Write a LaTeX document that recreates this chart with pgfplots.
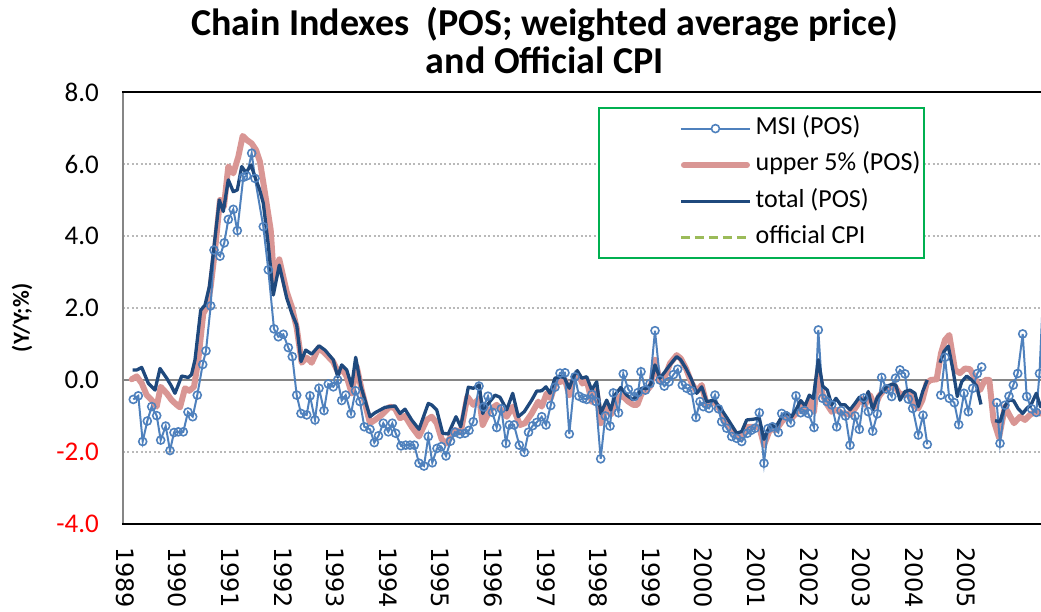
\documentclass[border=0pt]{standalone}
\usepackage{fontspec}
\setmainfont{Carlito}
\newfontfamily\yearfont{DejaVu Sans}
\usepackage{pgfplots}
\pgfplotsset{compat=1.18}
\usetikzlibrary{calc}
\definecolor{msi}{RGB}{79,129,189}
\definecolor{upper}{RGB}{217,150,148}
\definecolor{total}{RGB}{31,73,125}
\definecolor{cpi}{RGB}{155,187,89}
\definecolor{legbox}{RGB}{0,176,80}
\definecolor{axgray}{RGB}{134,134,134}
\definecolor{gridgray}{RGB}{185,185,185}
\begin{document}
\begin{tikzpicture}
\begin{axis}[
  name=ax,
  scale only axis,
  width=459pt, height=216pt,
  xmin=123, xmax=1041,
  ymin=-4, ymax=8,
  clip=true,
  axis line style={draw=none},
  tick style={draw=none},
  ytick={-4,-2,2,4,6,8},
  yticklabels={{\color{red}-4.0},{\color{red}-2.0},2.0,4.0,6.0,8.0},
  extra y ticks={0},
  extra y tick labels={0.0},
  extra y tick style={grid style={solid, draw=axgray, line width=1pt}},
  yticklabel style={font=\fontsize{13.5}{16}\selectfont, anchor=east, xshift=-8.5pt},
  xtick={125,177.6,230.2,282.8,335.4,388,440.6,493.2,545.8,598.4,651,703.6,756.2,808.8,861.4,914,966.6},
  xticklabels={1989,1990,1991,1992,1993,1994,1995,1996,1997,1998,1999,2000,2001,2002,2003,2004,2005},
  xticklabel style={font=\yearfont\fontsize{12}{14}\selectfont, yshift=-8pt, rotate=-90, anchor=west},
  ymajorgrids,
  grid style={draw=gridgray, line width=0.9pt, dash pattern=on 1pt off 1.2pt},
  ylabel={(Y/Y;\%)},
  every axis y label/.style={at={(rel axis cs:-0.110,0.477)}, rotate=90, anchor=center, font=\bfseries\fontsize{11.5}{13}\selectfont},
  unbounded coords=jump,
  legend style={draw=legbox, line width=1pt, fill=white,
    at={(rel axis cs:0.5174,0.9653)}, anchor=north west,
    inner xsep=0pt, inner ysep=1.2pt,
    font=\fontsize{13}{15.6}\selectfont,
    nodes={inner xsep=2pt, inner ysep=3.1pt, text height=9pt, text depth=3pt},
    every even column/.style={text width=124pt}},
  legend cell align=left,
]
% upper 5% (POS)
\addplot[upper, line width=3pt, line join=round, line cap=round, forget plot] table {
x y
131.7 0.02
136.7 0.1
141.7 -0.09
146.7 -0.42
151.7 -0.56
156.7 -0.74
160.7 -0.19
166.7 -0.37
171.7 -0.56
176.7 -0.69
180 -0.76
185 -0.23
189.3 -0.3
194 -0.19
198.3 0.56
203.3 1.85
207.3 2.04
210.7 2.59
215 3.61
220 5.0
224 4.83
228.3 5.93
233.3 5.74
238.3 6.2
242.7 6.78
246.7 6.67
251.7 6.57
256 6.39
260 6.06
265 5.19
270.7 4.17
274 2.78
279.3 3.35
286.7 2.45
291.7 2.04
296.7 1.45
301.7 0.48
306.7 0.62
311.7 0.48
318.7 0.9
325 0.74
333.3 0.5
338.3 0.2
342.5 0.3
346.7 0.09
351.7 -0.37
356.7 0.37
361.7 -0.28
370 -1.2
375 -1.11
381.7 -0.97
390 -0.74
395 -0.79
400 -1.06
405 -1.0
411.7 -1.3
419 -1.57
426.7 -1.11
431.7 -1.02
436.7 -1.2
441.7 -1.65
446.7 -1.76
455 -1.39
460.7 -1.46
467.3 -0.46
473.3 -0.69
479.3 -0.51
482.7 -1.25
490 -0.83
496.7 -0.69
506.7 -1.02
512.7 -0.74
520 -1.25
525 -1.2
531.7 -0.93
538.3 -0.6
541.7 -0.74
546.7 -0.37
550.7 -0.51
556 -0.05
560.7 -0.05
565 0.0
569.3 -0.42
573.3 0.0
578.3 0.14
582.5 -0.1
586.7 0.0
591.7 -0.6
596.5 -0.3
600.7 -1.2
606.7 -0.74
610.7 -0.97
616.7 -0.56
621.7 -0.42
628.3 -0.6
633.3 -0.69
637.3 -0.69
641.7 -0.37
647.3 -0.28
651 -0.15
655 0.56
660 -0.05
665 0.09
670 0.46
676.7 0.69
680.7 0.6
686 0.32
691.7 -0.09
696.7 -0.32
701.7 -0.14
706.7 -0.69
714 -0.6
720 -0.83
726.7 -1.2
731.7 -1.34
736.7 -1.56
741.7 -1.6
746.7 -1.3
753.3 -1.3
759.3 -1.3
764 -1.81
770 -1.37
776 -1.39
781.7 -1.16
786.7 -1.02
791.7 -1.06
796.7 -0.91
800.7 -0.74
805 -0.85
809.3 -0.57
814 -0.88
818.3 0.28
822.7 -0.42
827.3 -0.69
831.7 -0.88
836.7 -0.83
841.7 -0.93
846 -0.93
850.7 -0.97
856.7 -0.72
860.7 -0.51
865 -0.69
870 -0.42
875 -0.74
879.3 -0.44
884 -0.28
889.3 -0.23
894 -0.14
899.3 -0.37
905 -0.42
910 -0.37
913.3 -0.69
918.3 -0.79
922.5 -0.55
926.7 -0.09
930.7 0.0
936.7 0.02
941 0.74
945 1.11
949.3 1.25
955 0.28
960 0.19
965 0.32
970 0.3
975 0.05
980 -0.28
985 0.0
989.3 0.0
993.5 -1.11
999 -1.6
1005 -0.74
1009.3 -0.97
1014 -1.2
1020 -1.02
1025 -1.11
1030 -0.97
1035 -0.88
1040 -0.93
1044 -0.9
};
% MSI (POS)
\addplot[msi, line width=1pt, mark=o, mark size=2pt, mark options={fill=white, line width=0.8pt}, forget plot] table {
x y
133.3 -0.54
138.3 -0.44
142.7 -1.71
147.3 -1.14
151.7 -0.74
156.7 -0.99
160.7 -1.67
165.7 -1.28
170 -1.96
174 -1.46
178.3 -1.44
183.3 -1.44
188 -0.89
192.7 -1.02
197.3 -0.42
202.7 0.43
206 0.81
210.7 2.06
214 3.61
220 3.44
224.3 3.81
228.3 4.46
233.3 4.74
237.3 4.15
243.3 5.63
246.7 5.67
251.7 6.3
255 5.6
263.3 4.26
268.3 3.06
274 1.42
278.3 1.2
283.3 1.27
288.3 0.9
292.3 0.65
296.7 -0.42
301 -0.93
306.7 -0.97
310 -0.44
315 -1.11
319 -0.23
324 -0.85
328.3 -0.11
333.3 -0.19
337.7 0.0
341.7 -0.57
345.7 -0.42
351 -0.94
355.5 -0.3
360 -0.6
364.3 -1.3
370 -1.37
374.3 -1.74
378.5 -1.55
383.3 -1.2
388.3 -1.44
392.3 -1.2
395.7 -1.48
401 -1.83
405.7 -1.81
410 -1.81
414.3 -1.81
419 -2.31
424 -2.39
428.3 -1.57
432.3 -2.3
437 -1.9
441.3 -1.85
446 -2.11
450.5 -1.7
455 -1.45
460 -1.5
465 -1.48
469 -1.4
473.3 -1.16
479 -0.17
483.5 -0.75
488 -0.45
492.5 -0.9
496.7 -1.32
501.3 -0.8
506 -1.76
509.3 -1.25
514 -1.25
519.3 -1.81
524.3 -2.01
528.5 -1.45
532.7 -1.27
536.7 -1.18
541.7 -1.02
546 -1.25
550.7 -0.71
555 -0.2
560 0.19
565 0.2
569.3 -1.5
575 0.09
579 -0.45
583.3 -0.51
586.7 -0.54
592 -0.4
596 -0.6
600.7 -2.19
605.3 -1.0
610 -1.28
613.3 -0.36
618.5 -0.91
623.3 0.17
628.3 -0.26
634.3 -0.46
638 -0.35
641 0.23
645.5 -0.28
650 -0.1
655 1.37
660 0.0
664.3 -0.17
669 -0.05
673.5 0.15
677.7 0.3
682.3 -0.14
686.7 -0.23
691.3 -0.3
696 -1.04
700 -0.6
703.3 -0.74
709 -0.79
715 -0.42
718.5 -0.8
721.7 -1.16
726.7 -1.34
731.7 -1.57
736.7 -1.62
741.7 -1.71
747.3 -1.48
751 -1.4
755 -1.34
759.3 -0.91
764 -2.31
768 -1.35
772.5 -1.3
778.3 -1.46
781.7 -0.93
786 -1.0
790.7 -1.19
796 -0.44
800.7 -0.91
804.5 -0.85
808.3 -0.93
814 -1.32
818.3 1.39
822.7 -0.51
827 -0.6
831.7 -0.69
836.7 -1.3
841 -0.85
845.5 -1.0
850 -1.81
855 -1.0
859.3 -1.37
863.7 -0.5
868.3 -0.88
872.7 -1.42
877.3 -0.94
881.7 0.07
886.5 -0.25
891.7 -0.46
895.5 0.05
900 0.28
905 0.17
908.3 -0.53
912.7 -0.79
918.3 -1.53
923 -0.98
927.3 -1.79
933 nan
940.8 -0.42
945 0.63
949.3 -0.51
954.3 -0.63
958.7 -1.24
964 -0.37
968.3 -0.88
972.7 -0.23
977.3 0.18
981.7 0.36
990 nan
996.7 -0.63
1000 -1.76
1005 -0.7
1009 -0.45
1013.3 -0.14
1017.7 0.18
1022.7 1.28
1026.7 -0.46
1031.5 -0.8
1036.3 -0.9
1039.5 0.18
1042.5 2.05
};
% total (POS)
\addplot[total, line width=1.65pt, line join=round, forget plot] table {
x y
132.7 0.28
137 0.28
141.7 0.35
148.3 -0.09
155 -0.28
160 0.32
166.7 0.05
171 -0.15
175 -0.37
181.7 0.11
188.3 0.07
191.5 0.15
195 0.56
200.7 1.94
205 2.08
209.3 2.59
213.3 3.52
219.3 5.0
223.3 4.68
228.3 5.56
233.3 5.23
237.3 5.28
241.7 5.93
246 5.76
251 5.97
255.5 5.6
259.5 5.3
263.3 4.91
268.3 3.75
273.3 2.36
279.3 3.19
286.7 2.28
291.7 1.86
296.7 1.53
301 0.51
305.7 0.83
311.7 0.72
319 0.95
325 0.83
333.3 0.56
337.7 0.09
341.7 0.42
346.7 0.28
351.7 -0.17
355.7 0.63
361 -0.19
370 -1.02
375 -0.91
385 -0.76
395 -0.72
400 -0.93
405 -0.81
411.7 -1.11
419 -1.37
428.3 -0.65
432 -0.7
436.7 -0.83
442.7 -1.48
448.3 -1.5
456 -1.02
460.7 -1.3
468.3 -0.2
473.3 -0.23
479.3 -0.14
482.7 -0.93
487.3 -0.69
495 -0.42
500 -0.48
506.7 -0.83
512.7 -0.37
518.3 -1.02
524.3 -0.88
531.7 -0.56
536.7 -0.31
541.7 -0.3
546 -0.19
550 -0.37
555 0.05
560.7 0.09
564.3 0.07
569.3 -0.23
573.3 0.09
577.3 0.26
581.7 0.05
586.7 0.09
591.7 -0.28
596.7 -0.05
600.7 -0.93
606.7 -0.56
610.7 -0.83
615 -0.42
620.7 -0.21
626.7 -0.42
632.7 -0.54
637.3 -0.46
641.7 -0.23
647.3 -0.23
651 -0.1
655 0.42
660 0.05
665 0.23
670 0.42
676.7 0.65
680.7 0.56
686 0.32
691.7 0.0
696.7 -0.37
701.7 -0.19
706.7 -0.6
714 -0.56
721.7 -0.83
728.3 -1.11
736.7 -1.48
741.7 -1.43
746.7 -1.11
753.3 -1.09
759.3 -1.06
764 -1.65
770 -1.25
776 -1.3
781.7 -1.02
786.7 -0.91
791.7 -1.02
796.7 -0.79
800.7 -0.57
805 -0.72
809.3 -0.42
813.3 -0.51
818.3 0.56
822.7 -0.17
827.3 -0.28
831.7 -0.69
836 -0.51
840.7 -0.69
845 -0.69
850 -0.83
855 -0.65
859.3 -0.48
864 -0.63
868.3 -0.32
872.7 -0.83
877.3 -0.48
882.7 -0.31
887.3 -0.17
892.7 -0.11
896 -0.15
900 -0.56
905 -0.32
910 -0.28
915 -0.37
918.3 -0.74
922.7 -0.32
927.3 0.0
933 nan
940 0.48
944 0.79
948.3 0.94
953.3 0.23
957.3 -0.46
961.7 -0.05
966.7 0.11
971.7 0.0
976.7 -0.17
981 -0.68
988 nan
995 -1.13
1000 -1.16
1005 -0.72
1009 -0.56
1013.5 -0.57
1018 -0.79
1022.7 -0.93
1026.7 -0.79
1031 -0.69
1036.3 -0.37
1040.5 -0.74
1044 -0.7
};
% legend entries
\addlegendimage{legend image code/.code={\path (-40.5pt,0pt); \draw[msi, line width=1pt] (0pt,0pt) -- (34.5pt,0pt); \draw[msi, line width=0.8pt, fill=white] (17.25pt,0pt) circle (2pt);}}
\addlegendentry{MSI (POS)}
\addlegendimage{legend image code/.code={\path (-40.5pt,0pt); \draw[upper, line width=3pt, line cap=round] (1.5pt,0pt) -- (33pt,0pt);}}
\addlegendentry{upper 5\% (POS)}
\addlegendimage{legend image code/.code={\path (-40.5pt,0pt); \draw[total, line width=1.65pt] (0pt,0pt) -- (34.5pt,0pt);}}
\addlegendentry{total (POS)}
\addlegendimage{legend image code/.code={\path (-40.5pt,0pt); \draw[cpi, line width=1.5pt, dash pattern=on 4.5pt off 2.5pt] (0pt,0pt) -- (34.5pt,0pt);}}
\addlegendentry{official CPI}
\end{axis}
\draw[axgray, line width=1pt] (ax.south west) -- (ax.north west);
\draw[black, line width=1pt] ([xshift=-0.5pt]ax.north west) -- (ax.north east);
\draw[black, line width=1pt] ([xshift=-0.5pt]ax.south west) -- (ax.south east);
\node[font=\bfseries\fontsize{19}{19}\selectfont, align=center, anchor=base] at ($(ax.north west)+(211pt,9pt)$) {Chain Indexes\ \ (POS; weighted average price)\\and Official CPI};
\pgfresetboundingbox
\useasboundingbox ($(ax.south west)+(-61.5pt,-44pt)$) rectangle ($(ax.north east)+(0pt,46pt)$);
\end{tikzpicture}
\end{document}
